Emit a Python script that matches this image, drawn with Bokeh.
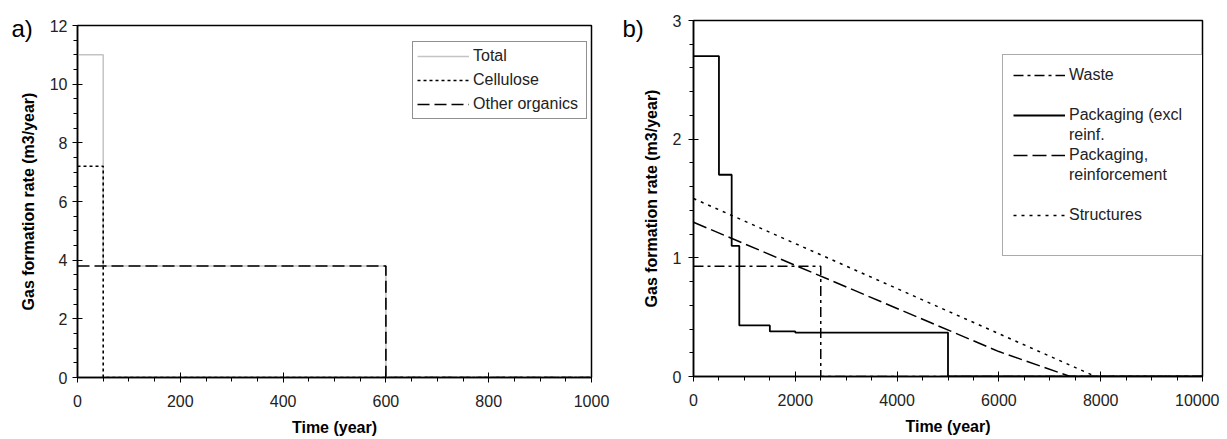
from bokeh.plotting import figure
from bokeh.models import Range1d, SingleIntervalTicker, Legend, LegendItem, Title
from bokeh.layouts import row, column
from bokeh.embed import file_html
from bokeh.resources import INLINE

# ---------------- data: panel a ----------------
a_total_t = [0, 50, 600, 1000]
a_total_rate = [11, 3.8, 0, 0]
a_cell_t = [0, 50, 1000]
a_cell_rate = [7.2, 0, 0]
a_other_t = [0, 600, 1000]
a_other_rate = [3.8, 0, 0]

# ---------------- data: panel b ----------------
b_waste_t = [0, 2500, 10000]
b_waste_rate = [0.93, 0, 0]
b_pack_t = [0, 500, 750, 900, 1500, 2000, 5000, 10000]
b_pack_rate = [2.7, 1.7, 1.1, 0.43, 0.38, 0.37, 0, 0]
b_reinf_t = [0, 6000, 7400, 10000]
b_reinf_rate = [1.3, 0.21, 0, 0]
b_struct_t = [0, 7900, 10000]
b_struct_rate = [1.5, 0, 0]

FONT = "Liberation Sans"
X_TITLE = "Time (year)"
Y_TITLE = "Gas formation rate (m3/year)"


def make_fig(xmax, ymax, xint, yint, xminor, yminor, fw, fh, bl, br, bt, bb, ystand):
    p = figure(frame_width=fw, frame_height=fh,
               min_border_left=bl, min_border_right=br,
               min_border_top=bt, min_border_bottom=bb,
               x_range=Range1d(0, xmax), y_range=Range1d(0, ymax),
               output_backend="svg", toolbar_location=None)
    if "frame_align" in p.properties():
        p.frame_align = False
    p.xgrid.visible = False
    p.ygrid.visible = False
    p.outline_line_color = "black"
    p.outline_line_width = 1.5
    p.background_fill_color = "white"
    p.border_fill_color = "white"
    p.xaxis.ticker = SingleIntervalTicker(interval=xint, num_minor_ticks=xminor)
    p.yaxis.ticker = SingleIntervalTicker(interval=yint, num_minor_ticks=yminor)
    for ax in (p.xaxis, p.yaxis):
        ax.axis_line_color = "black"
        ax.axis_line_width = 1.5
        ax.major_tick_line_color = "black"
        ax.minor_tick_line_color = "black"
        ax.major_tick_line_width = 1
        ax.minor_tick_line_width = 1
        ax.major_tick_out = 5
        ax.major_tick_in = 5
        ax.minor_tick_out = 4
        ax.minor_tick_in = 0
        ax.major_label_text_font = FONT
        ax.major_label_text_font_size = "16px"
        ax.major_label_text_color = "#222222"
        ax.axis_label_text_font = FONT
        ax.axis_label_text_font_size = "16px"
        ax.axis_label_text_font_style = "bold"
        ax.axis_label_text_color = "black"
    p.xaxis.axis_label = X_TITLE
    p.yaxis.axis_label = Y_TITLE
    p.xaxis.major_label_standoff = 12
    p.xaxis.axis_label_standoff = 9
    p.yaxis.major_label_standoff = ystand
    p.yaxis.axis_label_standoff = 10
    return p


def panel_label(text, offset, standoff):
    return Title(text=text, align="left", offset=offset, standoff=standoff,
                 text_font=FONT, text_font_size="24px", text_font_style="normal",
                 text_color="black")


# ---------------- panel a ----------------
pa = make_fig(1000, 12, 200, 2, 4, 4, 514, 352, 77, 21, 25, 62, 5)
r_total = pa.step(a_total_t, a_total_rate, mode="after", line_color="#c4c4c4", line_width=1.5)
r_other = pa.step(a_other_t, a_other_rate, mode="after", line_color="black", line_width=1.6, line_dash="12 5")
r_cell = pa.step(a_cell_t, a_cell_rate, mode="after", line_color="black", line_width=1.6, line_dash="3 3")

leg_a = Legend(items=[LegendItem(label="Total", renderers=[r_total]),
                      LegendItem(label="Cellulose", renderers=[r_cell]),
                      LegendItem(label="Other organics", renderers=[r_other])],
               location=(335, 258))
leg_a.border_line_color = "#222222"
leg_a.border_line_width = 1
leg_a.background_fill_color = "white"
leg_a.background_fill_alpha = 1
leg_a.label_text_font = FONT
leg_a.label_text_font_size = "16px"
leg_a.label_text_color = "#222222"
leg_a.glyph_width = 52
leg_a.glyph_height = 20
leg_a.label_height = 20
leg_a.label_standoff = 4
leg_a.spacing = 4
leg_a.padding = 4
leg_a.margin = 0
leg_a.label_width = 109
pa.add_layout(leg_a)
pa.add_layout(panel_label("a)", -66, -32), "above")

# ---------------- panel b ----------------
pb = make_fig(10000, 3, 2000, 1, 4, 5, 509, 356, 81, 17, 20, 63, 7)
r_waste = pb.step(b_waste_t, b_waste_rate, mode="after", line_color="black", line_width=1.5, line_dash="10 4 3 4")
r_reinf = pb.line(b_reinf_t, b_reinf_rate, line_color="black", line_width=1.5, line_dash="14 5")
r_struct = pb.line(b_struct_t, b_struct_rate, line_color="black", line_width=1.5, line_dash="3 5")
r_pack = pb.step(b_pack_t, b_pack_rate, mode="after", line_color="black", line_width=1.8)
r_blank = pb.line(x=[], y=[], line_alpha=0)

leg_b = Legend(items=[LegendItem(label="Waste", renderers=[r_waste]),
                      LegendItem(label=" ", renderers=[r_blank]),
                      LegendItem(label="Packaging (excl", renderers=[r_pack]),
                      LegendItem(label="reinf.", renderers=[r_blank]),
                      LegendItem(label="Packaging,", renderers=[r_reinf]),
                      LegendItem(label="reinforcement", renderers=[r_blank]),
                      LegendItem(label=" ", renderers=[r_blank]),
                      LegendItem(label="Structures", renderers=[r_struct]),
                      LegendItem(label=" ", renderers=[r_blank])],
               location=(309, 120))
leg_b.border_line_color = "#555555"
leg_b.border_line_width = 1
leg_b.background_fill_color = "white"
leg_b.background_fill_alpha = 1
leg_b.label_text_font = FONT
leg_b.label_text_font_size = "16px"
leg_b.label_text_color = "#222222"
leg_b.glyph_width = 52
leg_b.glyph_height = 20
leg_b.label_height = 20
leg_b.label_standoff = 4
leg_b.spacing = 0
leg_b.padding = 10
leg_b.margin = 0
leg_b.label_width = 124
pb.add_layout(leg_b)
pb.add_layout(panel_label("b)", -71, -42), "above")

layout = row(column(pa), column(pb))
open("out.html", "w").write(file_html(layout, INLINE))
